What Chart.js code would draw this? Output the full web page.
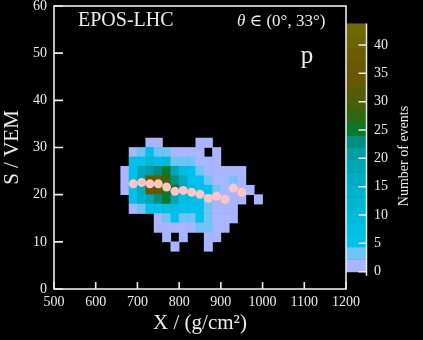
<!DOCTYPE html>
<html>
<head>
<meta charset="utf-8">
<script src="https://cdn.jsdelivr.net/npm/chart.js@4.4.0/dist/chart.umd.min.js"></script>
<style>
  html, body { margin: 0; padding: 0; background: #000; }
</style>
</head>
<body>
<canvas id="myChart" width="423" height="340"></canvas>
<script>
// histogram bins (lower edges), X in g/cm2 and S in VEM
const xBinLow = [660, 680, 700, 720, 740, 760, 780, 800, 820, 840, 860, 880, 900, 920, 940, 960, 980, 1000]
const xBinWidth = 20
const sBinLow = [30, 28, 26, 24, 22, 20, 18, 16, 14, 12, 10, 8]
const sBinHeight = 2

// number of events per cell, one row per S bin (top row first)
const eventCounts = [
  [0, 0, 0, 1, 1, 0, 0, 0, 0, 1, 1, 0, 0, 0, 0, 0, 0, 0],
  [0, 1, 3, 5, 3, 3, 1, 1, 1, 1, 0, 1, 0, 0, 0, 0, 0, 0],
  [0, 5, 6, 13, 7, 9, 4, 3, 3, 1, 1, 1, 0, 0, 0, 0, 0, 0],
  [1, 6, 19, 20, 22, 25, 18, 7, 6, 3, 1, 1, 1, 1, 1, 0, 0, 0],
  [1, 6, 18, 34, 35, 30, 22, 17, 6, 5, 3, 1, 1, 3, 1, 0, 0, 0],
  [1, 6, 17, 34, 34, 26, 27, 18, 10, 6, 5, 3, 1, 1, 1, 1, 0, 0],
  [0, 5, 15, 18, 22, 25, 19, 8, 7, 6, 3, 1, 1, 1, 1, 0, 1, 0],
  [0, 1, 3, 5, 6, 7, 7, 6, 6, 5, 3, 1, 1, 1, 0, 0, 0, 0],
  [0, 0, 0, 0, 1, 3, 5, 3, 3, 6, 3, 1, 1, 1, 0, 0, 0, 0],
  [0, 0, 0, 0, 1, 1, 1, 1, 1, 3, 3, 1, 1, 0, 0, 0, 0, 0],
  [0, 0, 0, 0, 0, 1, 0, 1, 0, 0, 1, 1, 0, 0, 0, 0, 0, 0],
  [0, 0, 0, 0, 0, 0, 1, 0, 0, 0, 1, 0, 0, 0, 0, 0, 0, 0]
]

// mean S per X bin (pink markers)
const profileX = [690, 710, 730, 750, 770, 790, 810, 830, 850, 870, 890, 910, 930, 950]
const profileS = [22.3, 22.6, 22.3, 22.3, 21.6, 20.7, 20.9, 20.5, 20.1, 19.2, 19.7, 19.0, 21.4, 20.5]

const xTicks = [500, 600, 700, 800, 900, 1000, 1100, 1200]
const yTicks = [0, 10, 20, 30, 40, 50, 60]
const cbTicks = [0, 5, 10, 15, 20, 25, 30, 35, 40]
const cbMax = 43.8

// colour palette (20 bands from 0 to cbMax)
const palette = [
  '#a9b6ff', '#6fc3f5', '#00c1ec', '#00bde3', '#00b9db', '#00b5d2', '#00b1ca', '#00acc0',
  '#00a6b4', '#009ea6', '#008f80', '#0a7a2a', '#2b6912', '#45600c', '#555c08', '#665800',
  '#6a5800', '#6a5c00', '#6b6500', '#6b6a00'
]
const bandW = cbMax / palette.length

function colorFor(v) {
  let k = Math.floor(v / bandW)
  if (k > palette.length - 1) k = palette.length - 1
  return palette[k]
}

const fg = '#ececec'
const serif = "'Liberation Serif', 'DejaVu Serif', serif"
Chart.defaults.font.family = serif
Chart.defaults.color = fg

// build cells
let cells = []
let cellColors = []
eventCounts.forEach((row, i) => {
  row.forEach((n, j) => {
    if (n > 0) {
      cells.push({ x: xBinLow[j] + xBinWidth / 2, y: [sBinLow[i], sBinLow[i] + sBinHeight] })
      cellColors.push(colorFor(n))
    }
  })
})

const profile = profileX.map((x, i) => ({ x: x, y: profileS[i] }))

function noPad(scale) {
  scale.paddingTop = 0
  scale.paddingBottom = 0
  scale.paddingLeft = 0
  scale.paddingRight = 0
}

// frame, inward ticks, colour bar and labels
const decor = {
  id: 'decor',
  afterDraw(chart) {
    const ctx = chart.ctx
    const a = chart.chartArea
    const xs = chart.scales.x
    const ys = chart.scales.y
    const cb = chart.scales.cb
    ctx.save()

    // colour bar
    const cbL = a.right
    const cbR = a.right + 20.5
    palette.forEach((c, k) => {
      const y1 = cb.getPixelForValue(k * bandW)
      const y2 = cb.getPixelForValue((k + 1) * bandW)
      ctx.fillStyle = c
      ctx.fillRect(cbL, y2, cbR - cbL, y1 - y2 + 0.5)
    })
    ctx.strokeStyle = fg
    ctx.lineWidth = 1.5
    ctx.beginPath()
    ctx.moveTo(cbR, cb.getPixelForValue(cbMax))
    ctx.lineTo(cbR, cb.getPixelForValue(0) + 4)
    cbTicks.forEach(v => {
      const y = cb.getPixelForValue(v)
      ctx.moveTo(cbR, y)
      ctx.lineTo(cbR - 8, y)
    })
    ctx.stroke()

    // frame
    ctx.lineWidth = 1.6
    ctx.strokeRect(a.left, a.top, a.right - a.left, a.bottom - a.top)

    // inward ticks
    ctx.beginPath()
    xTicks.forEach(v => {
      const x = xs.getPixelForValue(v)
      ctx.moveTo(x, a.bottom)
      ctx.lineTo(x, a.bottom - 7)
    })
    yTicks.forEach(v => {
      const y = ys.getPixelForValue(v)
      ctx.moveTo(a.left, y)
      ctx.lineTo(a.left + 9, y)
    })
    ctx.stroke()

    // texts
    ctx.fillStyle = fg
    ctx.textBaseline = 'alphabetic'
    ctx.textAlign = 'left'
    ctx.font = '20px ' + serif
    ctx.fillText('EPOS-LHC', a.left + 24, a.top + 20)

    ctx.font = 'italic 17px ' + serif
    ctx.fillText('θ', 237, a.top + 20)
    const tw = ctx.measureText('θ').width
    ctx.font = '17px ' + serif
    ctx.fillText(' ∈ (0°, 33°)', 237 + tw, a.top + 20)

    ctx.font = '25px ' + serif
    ctx.textAlign = 'center'
    ctx.fillText('p', 307, 63)

    // colour bar title
    ctx.translate(404, 156)
    ctx.rotate(-Math.PI / 2)
    ctx.font = '14px ' + serif
    ctx.textBaseline = 'middle'
    ctx.fillText('Number of events', 0, 0)
    ctx.restore()
  }
}

const plainLabel = v => String(v)

const ctx = document.getElementById('myChart').getContext('2d')
const myChart = new Chart(ctx, {
  type: 'bar',
  data: {
    datasets: [
      {
        type: 'scatter',
        data: profile,
        backgroundColor: '#ffc4c4',
        borderWidth: 0,
        pointRadius: 4.5,
        showLine: false,
        order: 0
      },
      {
        type: 'bar',
        data: cells,
        backgroundColor: cellColors,
        borderWidth: 0,
        barPercentage: 1,
        categoryPercentage: 1,
        order: 1
      }
    ]
  },
  options: {
    responsive: false,
    animation: false,
    events: [],
    devicePixelRatio: 1,
    layout: { padding: { top: 6, right: 0, bottom: 0, left: 0 } },
    plugins: { legend: { display: false }, tooltip: { enabled: false } },
    scales: {
      x: {
        type: 'linear',
        min: 500,
        max: 1200,
        offset: false,
        afterBuildTicks: s => { s.ticks = xTicks.map(v => ({ value: v })) },
        afterFit: s => { s.height = 51; noPad(s) },
        grid: { display: false, drawTicks: false, offset: false },
        border: { display: false },
        ticks: { font: { size: 14 }, color: fg, padding: 5, maxRotation: 0, callback: plainLabel },
        title: { display: true, text: 'X / (g/cm²)', font: { size: 21 }, color: fg, padding: { top: 0, bottom: 4 } }
      },
      y: {
        type: 'linear',
        min: 0,
        max: 60,
        afterBuildTicks: s => { s.ticks = yTicks.map(v => ({ value: v })) },
        afterFit: s => { s.width = 54; noPad(s) },
        grid: { display: false, drawTicks: false },
        border: { display: false },
        ticks: { font: { size: 14 }, color: fg, padding: 7, callback: plainLabel },
        title: { display: true, text: 'S / VEM', font: { size: 21 }, color: fg, padding: 0 }
      },
      cb: {
        type: 'linear',
        position: 'right',
        axis: 'y',
        min: -3.05,
        max: 46.88,
        afterBuildTicks: s => { s.ticks = cbTicks.map(v => ({ value: v })) },
        afterFit: s => { s.width = 77; noPad(s) },
        grid: { display: false, drawTicks: false },
        border: { display: false },
        ticks: { font: { size: 14 }, color: fg, padding: 28, callback: plainLabel }
      }
    }
  },
  plugins: [decor]
})
</script>
</body>
</html>
